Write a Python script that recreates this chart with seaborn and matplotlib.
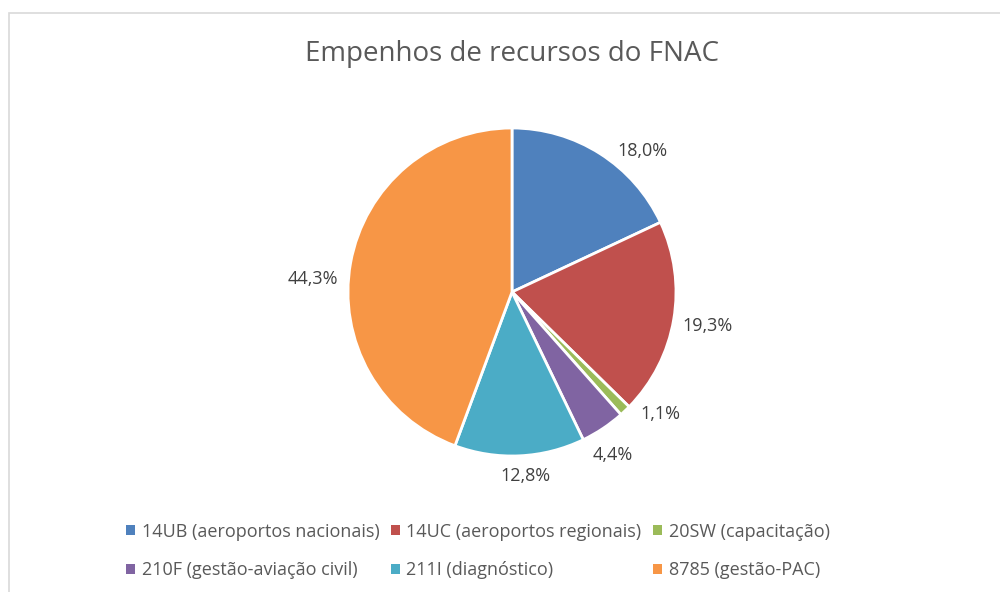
import matplotlib
matplotlib.use("Agg")
import matplotlib.pyplot as plt
import seaborn as sns
from matplotlib.patches import Patch, Rectangle

# data
categories = ["14UB (aeroportos nacionais)", "14UC (aeroportos regionais)", "20SW (capacitação)",
              "210F (gestão-aviação civil)", "211I (diagnóstico)", "8785 (gestão-PAC)"]
shares = [18.0, 19.3, 1.1, 4.4, 12.8, 44.3]
labels = ["18,0%", "19,3%", "1,1%", "4,4%", "12,8%", "44,3%"]
colors = ["#4F81BD", "#C0504D", "#9BBB59", "#8064A2", "#4BACC6", "#F79646"]

# Excel "best fit" moves some labels off the mid-angle line
label_nudge = [(0.17, -0.13), (0.036, -0.011), (0.095, 0.103),
               (-0.033, -0.021), (0.024, 0.047), (-0.062, -0.128)]

sns.set_theme(style="white")
plt.rcParams["font.family"] = ["Open Sans", "DejaVu Sans"]

fig = plt.figure(figsize=(10, 5.92), dpi=100)
fig.patch.set_facecolor("white")

# light chart border (only left/top visible in the reference)
fig.patches.append(Rectangle((0.009, -0.1), 1.2, 1 - 13 / 592 + 0.1, transform=fig.transFigure,
                             fill=False, edgecolor="#D9D9D9", linewidth=1.2))

ax = fig.add_axes([(512 - 164) / 1000, (592 - 456) / 592, 328 / 1000, 328 / 592])
wedges, texts = ax.pie(shares, colors=colors, startangle=90, counterclock=False,
                       labels=labels, labeldistance=1.17,
                       wedgeprops=dict(edgecolor="white", linewidth=2),
                       textprops=dict(color="#404040", fontsize=13))
for t, (dx, dy) in zip(texts, label_nudge):
    x, y = t.get_position()
    t.set_position((x + dx, y + dy))
    t.set_ha("center")
    t.set_va("center")
ax.set_xlim(-1, 1)
ax.set_ylim(-1, 1)
ax.set_aspect("equal")
ax.axis("off")

fig.text(0.512, 1 - 54 / 592, "Empenhos de recursos do FNAC", ha="center", va="center",
         fontsize=20, color="#595959")

handles = [Patch(facecolor=c, edgecolor="none") for c in colors]
order = [0, 3, 1, 4, 2, 5]
leg = fig.legend([handles[i] for i in order], [categories[i] for i in order],
                 loc="center", bbox_to_anchor=(0.478, 1 - 551 / 592), ncol=3, frameon=False,
                 fontsize=13, handlelength=0.5, handleheight=0.5, handletextpad=0.35,
                 columnspacing=0.65, labelspacing=1.15, labelcolor="#595959")

fig.savefig("out.png", dpi=100)
